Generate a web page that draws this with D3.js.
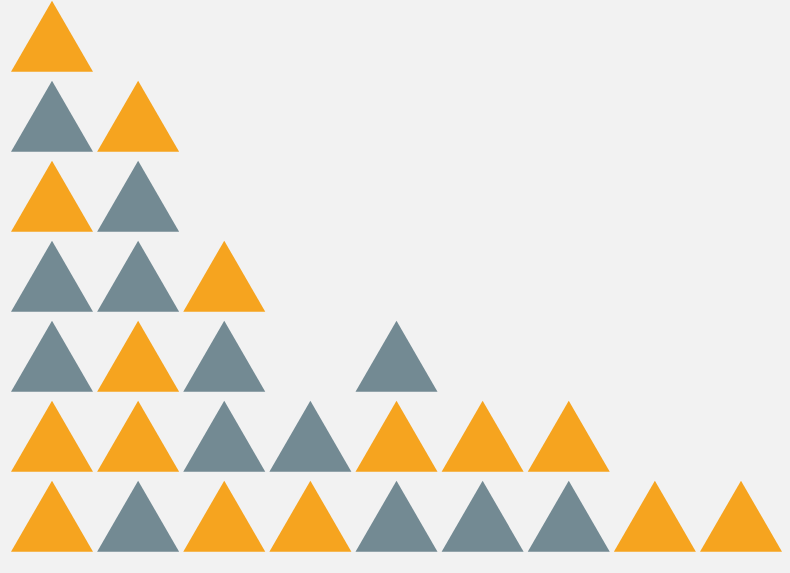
<!DOCTYPE html>
<html>
<head>
<meta charset="utf-8">
<script src="https://cdn.jsdelivr.net/npm/d3@7"></script>
<style>
  html, body { margin: 0; padding: 0; background: #f2f2f2; }
  svg { display: block; }
</style>
</head>
<body>
<div class="chart"></div>
<script>
// one column per category, stacked bottom -> top, O = orange, G = grey
const categories = ["c1", "c2", "c3", "c4", "c5", "c6", "c7", "c8", "c9"];
const stacks = [
  ["O", "O", "G", "G", "O", "G", "O"],
  ["G", "O", "O", "G", "G", "O"],
  ["O", "G", "G", "O"],
  ["O", "G"],
  ["G", "O", "G"],
  ["G", "O"],
  ["G", "O"],
  ["O"],
  ["O"]
];
const colorKeys = ["O", "G"];
const colorValues = ["#f6a41f", "#738a93"];

const w = 790, h = 573;
const triW = 82, triH = 71;

let cells = [];
stacks.forEach((s, i) => {
  s.forEach((c, k) => cells.push({cat: categories[i], row: k, color: c}));
});

const xScale = d3.scalePoint()
  .domain(categories)
  .range([11 + triW / 2, w - 8 - triW / 2]);

// baseline of each row
const yScale = d3.scaleLinear()
  .domain([0, 7])
  .range([551.7, 551.7 - 7 * 80]);

const color = d3.scaleOrdinal().domain(colorKeys).range(colorValues);

const svg = d3.select('.chart')
  .append('svg')
  .attr('width', w)
  .attr('height', h);

svg.append('rect')
  .attr('width', w)
  .attr('height', h)
  .attr('fill', '#f2f2f2');

const tri = d3.line();

svg.selectAll('path.tri')
  .data(cells)
  .enter()
  .append('path')
  .attr('class', 'tri')
  .attr('d', d => {
    let cx = xScale(d.cat), b = yScale(d.row);
    return tri([[cx - triW / 2, b], [cx, b - triH], [cx + triW / 2, b]]) + 'Z';
  })
  .attr('fill', d => color(d.color));
</script>
</body>
</html>
